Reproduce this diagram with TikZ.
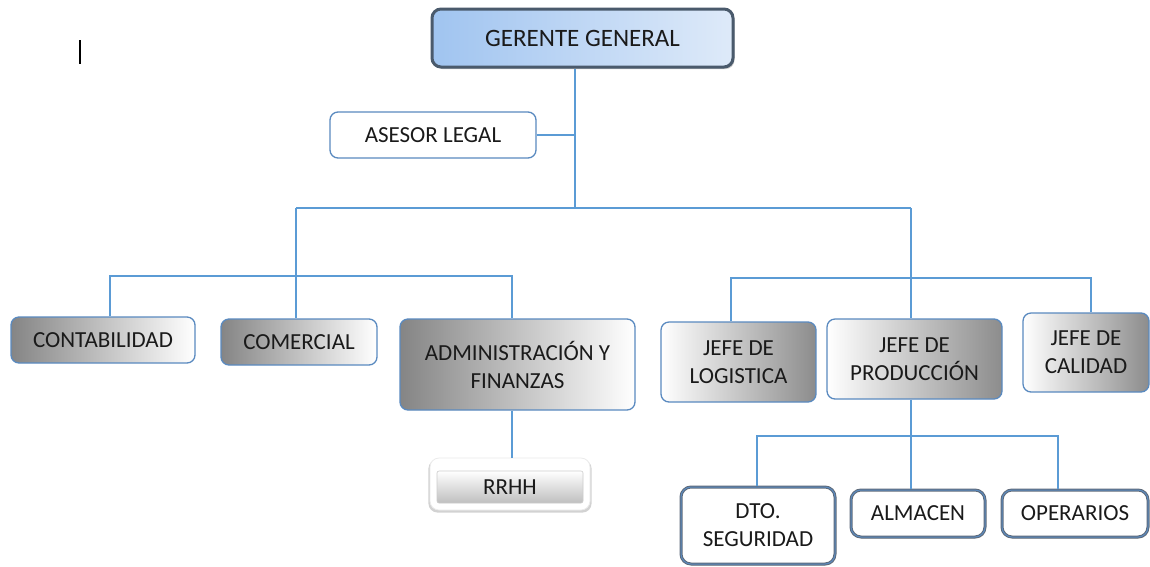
\documentclass[tikz,border=0pt]{standalone}
\usepackage{fontspec}
\setmainfont{Carlito}
\usetikzlibrary{shadows}
\definecolor{lineblue}{HTML}{5B9BD5}
\definecolor{boxblue}{HTML}{5A8AC0}
\definecolor{ggborder}{HTML}{4A5A6C}
\definecolor{lowborder}{HTML}{5F6B7A}
\definecolor{txt}{HTML}{1A1A1A}
\tikzset{
  every node/.style={font=\fontsize{23}{28}\selectfont, text=txt, align=center, inner sep=0pt},
  conn/.style={draw=lineblue, line width=1.4pt},
  basebox/.style={rounded corners=8pt, line width=1.3pt, draw=boxblue},
  graybox/.style={basebox, left color=black!48, right color=white},
  revbox/.style={basebox, left color=white, right color=black!45},
  whitebox/.style={basebox, fill=white},
  topbox/.style={rounded corners=9pt, line width=3pt, draw=ggborder,
     drop shadow={shadow xshift=1.5pt, shadow yshift=-2pt, opacity=0.45}},
  lowbox/.style={rounded corners=10pt, line width=3pt, draw=lowborder, fill=white,
     postaction={draw=boxblue, line width=1pt},
     drop shadow={shadow xshift=1pt, shadow yshift=-1.5pt, opacity=0.35}},
  glowbox/.style={rounded corners=9pt, draw=black!8, fill=white, line width=0.8pt,
     drop shadow={shadow xshift=0pt, shadow yshift=-2pt, opacity=0.35, shadow scale=1.02}},
  innerbox/.style={rounded corners=2pt, draw=black!20, top color=white, bottom color=black!25, line width=0.6pt},
}
\begin{document}
\begin{tikzpicture}[x=1pt, y=-1pt]
\useasboundingbox (0,0) rectangle (1150,566);
\fill[white] (0,0) rectangle (1150,566);
\begin{scope}
\clip (0,0) rectangle (1150,566);

% text cursor mark
\draw[black, line width=1.4pt] (80,40) -- (80,64);

% nodes
\node[topbox, minimum width=301pt, minimum height=58pt, left color={rgb,255:red,160;green,196;blue,240}, right color={rgb,255:red,222;green,234;blue,249}, font=\fontsize{25}{30}\selectfont] (gg) at (582.5,38) {GERENTE GENERAL};
\node[whitebox, minimum width=206pt, minimum height=46pt] (al) at (433,135) {ASESOR LEGAL};

\node[graybox, minimum width=184pt, minimum height=46pt] (cont) at (103,340) {CONTABILIDAD};
\node[graybox, minimum width=156pt, minimum height=46pt] (com) at (299,342) {COMERCIAL};
\node[graybox, minimum width=235pt, minimum height=91pt] (adm) at (517.5,364.5) {ADMINISTRACIÓN Y\\FINANZAS};

\node[glowbox, minimum width=160pt, minimum height=52pt] (rrhh) at (510,484) {};
\node[innerbox, minimum width=146pt, minimum height=32pt] (rrhhin) at (510,487) {RRHH};

\node[revbox, minimum width=155pt, minimum height=80pt] (log) at (738.5,362) {JEFE DE\\LOGISTICA};
\node[revbox, minimum width=175pt, minimum height=80pt] (jp) at (914.5,359) {JEFE DE\\PRODUCCIÓN};
\node[revbox, minimum width=126pt, minimum height=79pt] (jc) at (1086,352.5) {JEFE DE\\CALIDAD};

\node[lowbox, minimum width=154pt, minimum height=77pt] (dto) at (758,525.5) {DTO.\\SEGURIDAD};
\node[lowbox, minimum width=134pt, minimum height=47pt] (alm) at (918,513.5) {ALMACEN};
\node[lowbox, minimum width=146pt, minimum height=47pt] (ope) at (1075,513.5) {OPERARIOS};

% junction coordinates
\coordinate (jA) at (575,208);
\coordinate (bL) at (296,208);
\coordinate (bR) at (911,208);
\coordinate (lL) at (110,276);
\coordinate (lR) at (512,276);
\coordinate (rL) at (731,278);
\coordinate (rR) at (1091,278);
\coordinate (pL) at (757,436);
\coordinate (pM) at (911,436);
\coordinate (pR) at (1058,436);

% connectors
\draw[conn] (jA |- gg.south) -- (jA);
\draw[conn] (al.east) -- (al.east -| jA);
\draw[conn] (bL) -- (bR);
\draw[conn] (bL) -- (bL |- com.north);
\draw[conn] (bR) -- (bR |- jp.north);
\draw[conn] (lL |- cont.north) -- (lL) -- (lR) -- (lR |- adm.north);
\draw[conn] (lR |- adm.south) -- (lR |- rrhh.north);
\draw[conn] (rL |- log.north) -- (rL) -- (rR) -- (rR |- jc.north);
\draw[conn] (pM |- jp.south) -- (pM |- alm.north);
\draw[conn] (pL |- dto.north) -- (pL) -- (pR) -- (pR |- ope.north);
\end{scope}
\end{tikzpicture}
\end{document}
